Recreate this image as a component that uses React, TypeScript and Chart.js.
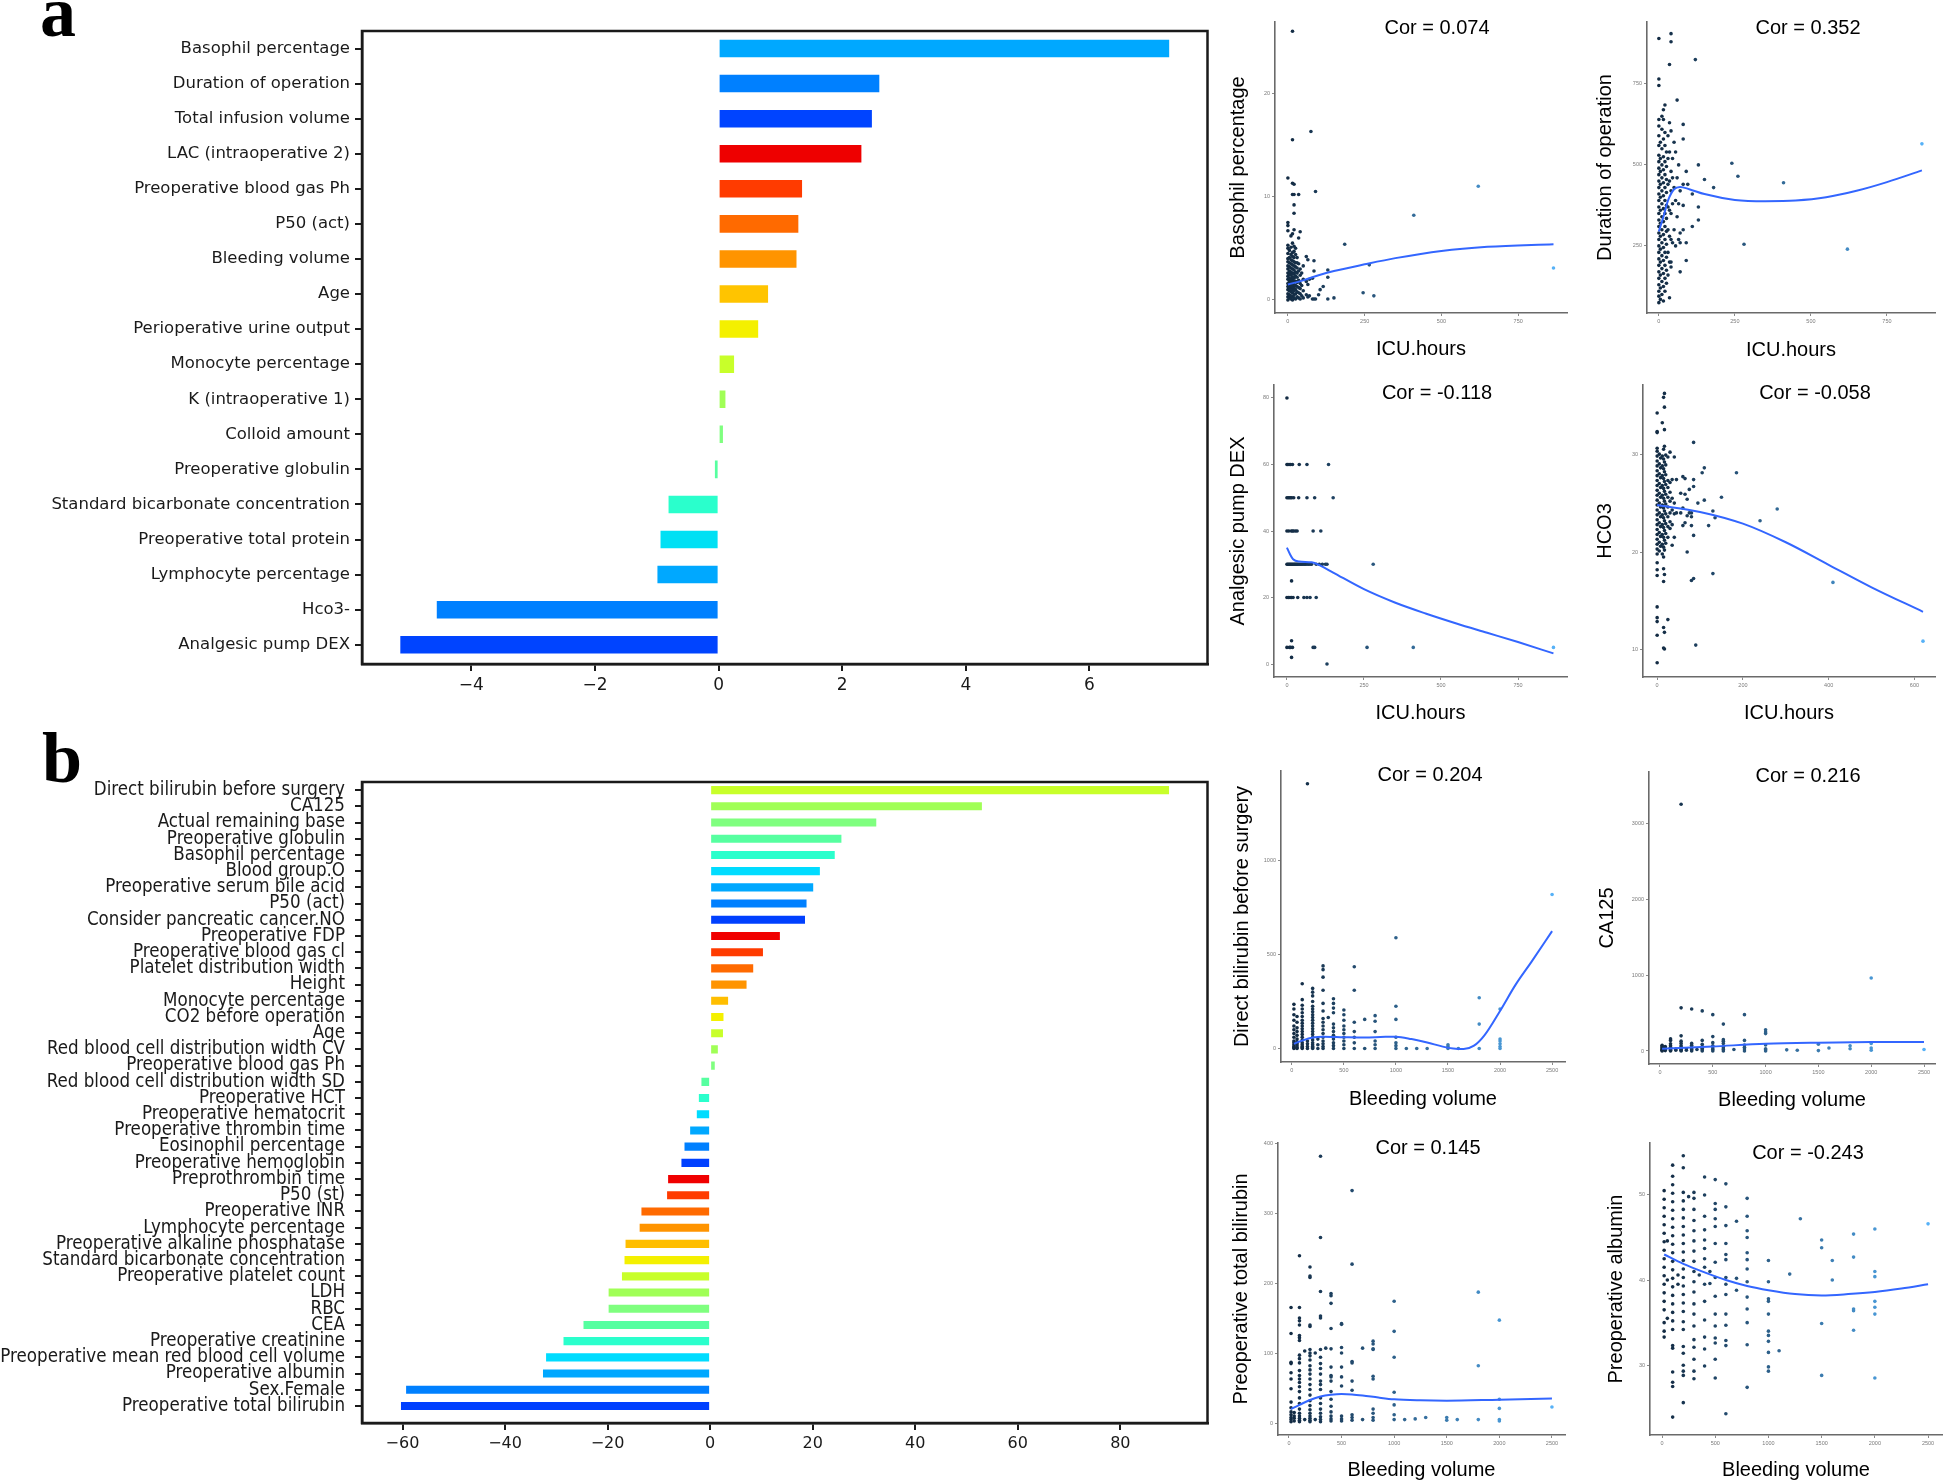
import React, { useEffect, useRef } from 'react';
import { Chart, registerables } from 'chart.js';
Chart.register(...registerables);

type Pt = [number, number];

// ---------------- Panel a (bar) ----------------
const A_LABELS = ['Basophil percentage', 'Duration of operation', 'Total infusion volume', 'LAC (intraoperative 2)', 'Preoperative blood gas Ph', 'P50 (act)', 'Bleeding volume', 'Age', 'Perioperative urine output', 'Monocyte percentage', 'K (intraoperative 1)', 'Colloid amount', 'Preoperative globulin', 'Standard bicarbonate concentration', 'Preoperative total protein', 'Lymphocyte percentage', 'Hco3-', 'Analgesic pump DEX'];
const A_VALUES = [7.29, 2.6, 2.48, 2.31, 1.35, 1.29, 1.26, 0.8, 0.64, 0.25, 0.11, 0.07, -0.06, -0.81, -0.94, -0.99, -4.56, -5.15];
const A_COLORS = ['#00A8FF', '#0080FF', '#0044FF', '#EE0000', '#FF3B00', '#FF6A00', '#FF9400', '#FFC400', '#F4F000', '#C8FF2A', '#A0FF56', '#7FFF7F', '#56FFA0', '#2AFFCC', '#00E0F4', '#00A8FF', '#0080FF', '#0044FF'];
const A_TICKS = [-4, -2, 0, 2, 4, 6];

// ---------------- Panel b (bar) ----------------
const B_LABELS = ['Direct bilirubin before surgery', 'CA125', 'Actual remaining base', 'Preoperative globulin', 'Basophil percentage', 'Blood group.O', 'Preoperative serum bile acid', 'P50 (act)', 'Consider pancreatic cancer.NO', 'Preoperative FDP', 'Preoperative blood gas cl', 'Platelet distribution width', 'Height', 'Monocyte percentage', 'CO2 before operation', 'Age', 'Red blood cell distribution width CV', 'Preoperative blood gas Ph', 'Red blood cell distribution width SD', 'Preoperative HCT', 'Preoperative hematocrit', 'Preoperative thrombin time', 'Eosinophil percentage', 'Preoperative hemoglobin', 'Preprothrombin time', 'P50 (st)', 'Preoperative INR', 'Lymphocyte percentage', 'Preoperative alkaline phosphatase', 'Standard bicarbonate concentration', 'Preoperative platelet count', 'LDH', 'RBC', 'CEA', 'Preoperative creatinine', 'Preoperative mean red blood cell volume', 'Preoperative albumin', 'Sex.Female', 'Preoperative total bilirubin'];
const B_VALUES = [89.5, 53.0, 32.4, 25.6, 24.3, 21.4, 20.1, 18.8, 18.5, 13.6, 10.3, 8.4, 7.1, 3.5, 2.6, 2.5, 1.5, 0.9, -1.7, -2.2, -2.6, -3.9, -5.0, -5.6, -8.2, -8.4, -13.4, -13.75, -16.5, -16.7, -17.2, -19.8, -19.8, -24.7, -28.6, -32.0, -32.6, -59.3, -60.3];
const B_COLORS = ['#C8FF2A', '#A0FF56', '#7FFF7F', '#56FFA0', '#2AFFCC', '#00DCFF', '#00A8FF', '#0080FF', '#0040FF', '#F00000', '#FF3B00', '#FF6A00', '#FF9400', '#FFBE00', '#F4F000', '#C8FF2A', '#A0FF56', '#7FFF7F', '#56FFA0', '#2AFFCC', '#00DCFF', '#00A8FF', '#0080FF', '#0040FF', '#F00000', '#FF3B00', '#FF6A00', '#FF9400', '#FFBE00', '#F4F000', '#C8FF2A', '#A0FF56', '#7FFF7F', '#56FFA0', '#2AFFCC', '#00DCFF', '#00A8FF', '#0080FF', '#0040FF'];
const B_TICKS = [-60, -40, -20, 0, 20, 40, 60, 80];

// ---------------- Scatter data (x column -> y values) ----------------
const S1_COLS: [number, number[]][] = [
  [0, [0, 0.3, 0.6, 1, 1.3, 1.6, 2, 2.3, 2.6, 3, 3.3, 3.7, 4, 4.5, 5, 5.3, 6.7, 7.2, 7.5, 11.8]],
  [5, [0.2, 0.5, 0.9, 1.2, 1.5, 1.8, 2.1, 2.5, 2.8, 3.2, 3.6, 4.1, 4.8]],
  [10, [0.1, 0.4, 0.8, 1.1, 1.4, 1.7, 2, 2.4, 2.7, 3.1, 3.5, 3.9, 4.4, 5.1, 6.2]],
  [15, [0, 0.3, 0.7, 1, 1.3, 1.6, 1.9, 2.2, 2.6, 3, 3.4, 3.8, 4.2, 4.6, 5.5, 6.4, 10.2, 11.3, 15.5, 26]],
  [20, [0.2, 0.5, 0.9, 1.2, 1.5, 1.8, 2.1, 2.5, 2.9, 3.3, 3.7, 4.1, 4.7, 5.2, 6.8, 8.4, 9.2, 10.2, 11.2]],
  [25, [0.1, 0.6, 1, 1.4, 1.8, 2.3, 2.7, 3.2, 3.6, 4.4, 5]],
  [30, [0.3, 0.8, 1.3, 1.7, 2.2, 2.6, 3.1, 3.6, 4.1]],
  [35, [0.2, 0.7, 1.2, 1.9, 2.8, 3.5, 6, 10.2]],
  [40, [0.1, 0.6, 1.1, 1.6, 2.4, 3, 6.6]],
  [45, [0.4, 1.4, 2.6]], [50, [0.2, 0.9, 2, 3.3]], [60, [0.5, 1.8, 4.2]], [65, [0.3, 1.5, 3.9]],
  [70, [0.4, 2]], [75, [16.3]], [80, [0.1, 2.1]], [85, [0.1, 2.8, 3.8]], [90, [0.1, 10.5]],
  [100, [0.5]], [105, [1]], [115, [1.3]], [130, [0.1, 2.2, 2.9]], [150, [0.2]], [185, [5.4]],
  [245, [0.7]], [265, [3.4]], [280, [0.4]], [410, [8.2]], [620, [11]], [865, [3.1]],
];
const S1_FIT: Pt[] = [[0, 1.5], [50, 1.9], [100, 2.4], [150, 2.8], [250, 3.45], [350, 4.05], [500, 4.75], [650, 5.15], [865, 5.4]];

const S2_COLS: [number, number[]][] = [
  [0, [75, 95, 110, 130, 150, 170, 190, 210, 230, 250, 270, 290, 310, 330, 350, 370, 390, 410, 430, 450, 470, 490, 510, 530, 560, 590, 620, 640, 745, 765, 890]],
  [5, [85, 120, 160, 200, 240, 280, 320, 360, 400, 440, 480, 520, 570]],
  [10, [100, 140, 180, 220, 260, 300, 340, 380, 420, 460, 500, 550, 610, 650]],
  [15, [80, 125, 165, 205, 245, 285, 325, 365, 405, 445, 485, 525, 580, 640, 670]],
  [20, [110, 150, 190, 230, 270, 310, 350, 390, 430, 470, 510, 560, 600, 685]],
  [25, [135, 175, 215, 255, 295, 335, 375, 415, 455, 495, 540]],
  [30, [160, 230, 300, 370, 440, 520, 590]],
  [35, [90, 200, 280, 360, 450, 540, 630, 810]],
  [40, [185, 200, 270, 350, 420, 480, 605, 880, 905]],
  [45, [260, 380, 460, 520]], [50, [300, 430, 570]], [55, [250, 390, 540]], [60, [340, 460, 700]],
  [65, [270, 380, 500]], [70, [170, 260, 290, 420]], [80, [300, 375, 440, 580, 625]], [90, [205, 260, 480]],
  [95, [440]], [110, [310, 410]], [120, [825]], [130, [330, 370, 500]], [150, [455]], [180, [430]],
  [240, [505]], [260, [465]], [280, [255]], [410, [445]], [620, [240]], [865, [565]],
];
const S2_FIT: Pt[] = [[0, 295], [15, 340], [30, 390], [50, 425], [70, 432], [100, 425], [150, 410], [250, 392], [350, 388], [450, 390], [550, 400], [650, 420], [750, 447], [865, 483]];

// Analgesic pump DEX: y level -> x values
const S3_ROWS: [number, number[]][] = [
  [80, [0]],
  [60, [0, 3, 7, 12, 18, 40, 65, 135]],
  [50, [0, 4, 8, 12, 16, 22, 38, 65, 90, 150]],
  [40, [0, 6, 14, 18, 22, 28, 33, 85, 110]],
  [30, [0, 3, 6, 9, 12, 15, 18, 21, 24, 27, 30, 33, 36, 40, 44, 48, 52, 56, 60, 65, 70, 75, 80, 95, 105, 115, 125, 130, 280]],
  [25, [15]],
  [20, [0, 5, 10, 15, 20, 35, 55, 65, 75, 95]],
  [7, [15]],
  [5, [0, 8, 12, 18, 85, 90, 260, 410, 865]],
  [2, [15]],
  [0, [130]],
];
const S3_FIT: Pt[] = [[0, 35], [10, 33], [20, 31.5], [40, 30.8], [80, 30.6], [110, 29.5], [150, 27.5], [250, 22.5], [350, 18.5], [450, 15.2], [550, 12.2], [650, 9.4], [750, 6.6], [865, 3.2]];

const S4_COLS: [number, number[]][] = [
  [0, [8.7, 11.5, 12.9, 13.3, 14.4, 17.6, 18.2, 18.9, 19.8, 20.3, 20.8, 21.3, 21.8, 22.3, 22.8, 23.3, 23.8, 24.3, 24.8, 25.3, 25.8, 26.3, 26.8, 27.3, 27.8, 28.3, 28.8, 29.3, 29.8, 30.3, 30.6, 32.2, 32.3, 34.2]],
  [5, [20.1, 21, 22, 23, 24, 25, 26, 27, 28, 29, 30]],
  [8, [20.6, 21.6, 22.6, 23.6, 24.6, 25.6, 26.6, 27.6, 28.6, 29.6]],
  [12, [19.8, 20.8, 21.8, 22.8, 23.8, 24.8, 25.8, 26.8, 27.8, 28.8, 29.8, 33.2]],
  [15, [10.2, 12.3, 17, 18.3, 19.5, 20.5, 21.5, 22.5, 23.5, 24.5, 25.5, 26.5, 27.5, 28.5, 29.5, 30.5, 35.8]],
  [17, [10.1, 11.8, 17.7, 20.2, 21.2, 22.2, 23.2, 24.2, 25.2, 26.2, 27.2, 28.2, 29.2, 30.8, 32.5, 34.8, 36.2]],
  [20, [20.9, 21.9, 22.9, 23.9, 24.9, 25.9, 26.9, 27.9, 28.9, 29.9]],
  [25, [13.1, 21.5, 22.6, 23.6, 24.6, 25.6, 26.6, 27.3, 29.7]],
  [30, [22.4, 23.1, 24, 25.2, 26.1, 27.1, 30.2]],
  [35, [20.7, 22.8, 24.3, 25.5, 27.4]], [40, [21.5, 23.9, 25, 29.7]], [45, [24, 27.4]], [55, [24, 26]],
  [60, [22.7, 24.5, 27.7]], [65, [23, 25.9, 27.5]], [70, [20, 23.7, 25.4]], [75, [24, 26.4]],
  [80, [17.1, 22.7, 23.6, 24]], [85, [17.3, 21.7, 26.7, 27.4, 31.2]], [90, [10.5]], [95, [25]],
  [105, [28.1]], [110, [25.3, 28.6]], [120, [22.7]], [130, [17.8, 24.2]], [135, [23.5]], [150, [25.6]],
  [185, [28.1]], [240, [23.2]], [280, [24.4]], [410, [16.9]], [620, [10.9]],
];
const S4_FIT: Pt[] = [[0, 24.8], [100, 24.1], [200, 22.9], [300, 21.0], [400, 18.7], [500, 16.4], [620, 13.9]];

const S5_COLS: [number, number[]][] = [
  [20, [0, 5, 10, 20, 30, 40, 60, 80, 100, 120, 150, 180, 210, 235]],
  [50, [0, 5, 15, 25, 35, 50, 70, 90, 110, 140, 170]],
  [100, [0, 5, 10, 20, 30, 45, 60, 75, 90, 105, 120, 135, 150, 170, 190, 210, 230, 260, 345]],
  [150, [0, 10, 25, 40, 1410]],
  [200, [0, 5, 10, 20, 30, 45, 60, 75, 90, 105, 120, 135, 150, 165, 180, 195, 210, 225, 250, 280, 300, 320]],
  [250, [0, 20, 50]],
  [300, [0, 10, 25, 40, 60, 80, 100, 120, 140, 160, 200, 240, 310, 380, 420, 440]],
  [350, [165]],
  [400, [0, 15, 30, 50, 70, 90, 110, 130, 190, 215, 240, 265]],
  [500, [0, 20, 40, 60, 80, 100, 120, 150, 180, 205]],
  [600, [0, 30, 60, 90, 140, 310, 435]],
  [700, [0, 155]], [800, [0, 20, 40, 90, 145, 175]], [1000, [0, 15, 30, 60, 155, 225, 590]],
  [1100, [0]], [1200, [0]], [1300, [0]], [1500, [0, 10, 20]], [1600, [0]], [1800, [0, 130, 270]],
  [2000, [0, 10, 25, 40, 50, 210]], [2500, [820]],
];
const S5_FIT: Pt[] = [[20, 25], [100, 42], [200, 58], [300, 63], [500, 60], [700, 58], [900, 62], [1000, 62], [1150, 50], [1300, 32], [1450, 10], [1550, 0], [1650, -3], [1750, 15], [1850, 70], [2000, 200], [2150, 340], [2300, 460], [2500, 625]];

const S6_COLS: [number, number[]][] = [
  [20, [0, 10, 20, 30, 45, 60, 75]], [50, [5, 15, 30, 45, 60]],
  [100, [0, 10, 20, 35, 50, 70, 95, 140, 160]], [150, [10, 25]],
  [200, [0, 10, 20, 35, 50, 70, 100, 130, 200, 570, 3260]], [250, [10, 30]],
  [300, [0, 15, 30, 50, 75, 100, 555]], [350, [20]],
  [400, [0, 15, 35, 60, 90, 140, 530]], [500, [0, 20, 40, 70, 110, 190, 480]],
  [600, [0, 20, 40, 60, 100, 130, 150, 355]], [700, [20]], [800, [0, 25, 50, 80, 140, 480]],
  [1000, [0, 15, 30, 80, 230, 250, 280]], [1200, [15]], [1300, [10]], [1500, [5, 90]], [1600, [40]],
  [1800, [30, 70]], [2000, [10, 40, 100, 965]], [2500, [20]],
];
const S6_FIT: Pt[] = [[20, 30], [500, 60], [1000, 95], [1500, 110], [2000, 118], [2500, 120]];

const S7_COLS: [number, number[]][] = [
  [20, [2, 5, 8, 12, 16, 22, 30, 49, 63, 72, 85, 87, 128, 165]], [50, [3, 7, 10, 15]],
  [100, [2, 4, 7, 10, 14, 20, 28, 36, 45, 52, 58, 63, 68, 75, 86, 92, 97, 118, 122, 125, 140, 146, 150, 165, 239]],
  [150, [5, 103]],
  [200, [2, 4, 7, 10, 14, 19, 25, 32, 40, 48, 55, 63, 70, 76, 82, 90, 96, 100, 105, 138, 140, 208, 210, 223]],
  [250, [5, 100]],
  [300, [2, 5, 9, 14, 20, 28, 36, 48, 55, 60, 70, 78, 85, 94, 105, 150, 153, 188, 265, 381]],
  [350, [107]],
  [400, [3, 6, 10, 16, 24, 34, 45, 60, 66, 68, 80, 106, 135, 171, 182, 185]],
  [500, [3, 6, 10, 53, 66, 80, 100, 108, 141, 142]],
  [600, [4, 8, 12, 47, 60, 86, 88, 227, 332]], [700, [5, 107]],
  [800, [4, 8, 14, 20, 63, 67, 105, 106, 113, 117]], [1000, [5, 12, 26, 44, 94, 131, 174]],
  [1100, [5]], [1200, [6]], [1300, [8]], [1500, [4, 8]], [1600, [5]], [1800, [5, 82, 187]],
  [2000, [3, 5, 21, 34, 147]], [2500, [23]],
];
const S7_FIT: Pt[] = [[20, 20], [100, 26], [200, 33], [300, 38], [400, 40.5], [500, 41.5], [600, 41], [700, 39.5], [850, 36.5], [1000, 34], [1250, 32.5], [1500, 32], [2000, 33.5], [2500, 35]];

const S8_COLS: [number, number[]][] = [
  [20, [33.3, 34, 35, 36.5, 37.5, 38.5, 39.5, 40.5, 41.5, 42.5, 43.5, 44.5, 45.5, 46.5, 47.5, 48.5, 49.5, 50.5]],
  [50, [35.5, 40, 44.6]],
  [100, [23.9, 27.5, 28, 29.2, 32, 32.3, 34.2, 35.2, 36.2, 37.2, 38.2, 39.2, 40.2, 41.2, 42.2, 43.2, 44.2, 45.2, 46.2, 47.2, 48.2, 49.2, 50.2, 51.2, 52.2, 53.5]],
  [150, [39.5, 40.6]],
  [200, [25.6, 28.8, 29.3, 30, 31.4, 32.2, 34.2, 35.1, 36.3, 37.3, 38.3, 39.3, 40.3, 41.3, 42.3, 43.3, 44.3, 45.3, 46.3, 47.3, 48.3, 49.3, 50.3, 53.2, 54.6]],
  [250, [49.8]],
  [300, [28.4, 29.3, 30.7, 32.1, 33, 34.6, 36, 37.2, 38.6, 39.8, 41, 42.2, 43.4, 44.6, 45.8, 47, 48.3, 49.6, 50.3]],
  [350, [40.6]],
  [400, [29.9, 31.9, 33.3, 35.3, 37.5, 39.5, 41.5, 42.5, 43.7, 44.7, 45.9, 47.5, 50, 52.1]],
  [450, [39.6, 41]],
  [500, [28.5, 30.7, 32.6, 33.2, 34.6, 36, 38.1, 40.3, 42.1, 44.3, 46.3, 47.2, 48.3, 49, 51.8]],
  [600, [24.3, 32.3, 32.9, 34.7, 36, 38.3, 39.5, 40.3, 42.4, 43, 44.3, 46.4, 48.6, 51.3]],
  [700, [38.8, 40.2, 46.9]],
  [800, [27.4, 32.4, 35, 36.6, 38, 39.8, 41.3, 42.4, 43.2, 45, 45.8, 47.5, 49.6]],
  [1000, [29.3, 29.8, 31.5, 32.8, 33.5, 34, 36, 37.5, 37.8, 39.8, 42.3]],
  [1100, [31.7]], [1200, [40.7]], [1300, [47.2]], [1500, [28.8, 34.9, 43.8, 44.7]], [1600, [40, 42.3]],
  [1800, [34.1, 36.4, 36.6, 42.7, 45.4]], [2000, [28.5, 36, 36.8, 37.5, 40.4, 41, 46]], [2500, [46.6]],
];
const S8_FIT: Pt[] = [[20, 43.0], [200, 41.9], [400, 40.9], [600, 40.0], [800, 39.3], [1000, 38.8], [1250, 38.35], [1500, 38.2], [1750, 38.35], [2000, 38.6], [2250, 39.0], [2500, 39.5]];

const ICU_TICKS = [0, 250, 500, 750];
const ICU_TICKS_HCO3 = [0, 200, 400, 600];
const BLEED_TICKS = [0, 500, 1000, 1500, 2000, 2500];

// ---------------- helpers ----------------
const SANS = '"Liberation Sans", Arial, sans-serif';
const DJV = '"DejaVu Sans", sans-serif';
const DJV_COND = '"DejaVu Sans Condensed", "Liberation Sans Narrow", "DejaVu Sans", sans-serif';

const framePlugin = {
  id: 'frame',
  afterDraw(chart: any, _args: any, opts: any) {
    if (!opts || !opts.on) return;
    const { ctx, chartArea: a } = chart;
    ctx.save();
    ctx.strokeStyle = opts.color;
    ctx.lineWidth = opts.width;
    ctx.strokeRect(a.left, a.top, a.right - a.left, a.bottom - a.top);
    ctx.restore();
  },
};

const corPlugin = {
  id: 'corTitle',
  afterDraw(chart: any, _args: any, o: any) {
    if (!o || !o.text) return;
    const ctx = chart.ctx;
    ctx.save();
    ctx.font = `${o.size}px ${SANS}`;
    ctx.fillStyle = '#000';
    ctx.textAlign = 'center';
    ctx.textBaseline = 'middle';
    ctx.fillText(o.text, o.x, o.y);
    ctx.restore();
  },
};

const minusFmt = (v: any) => {
  const n = Number(v);
  return n < 0 ? '\u2212' + Math.abs(n) : String(n);
};

interface BarSpec {
  left: number; top: number; w: number; h: number;
  area: { l: number; t: number; r: number; b: number };
  labels: string[]; values: number[]; colors: string[]; ticks: number[];
  xMin: number; xMax: number; yMax: number; labelFont: any; tickFont: any; labelPad: number;
}

function BarPanel({ s }: { s: BarSpec }) {
  const ref = useRef<HTMLCanvasElement>(null);
  useEffect(() => {
    const yW = s.area.l - s.left;
    const xH = s.top + s.h - s.area.b;
    const idx = s.labels.map((_, i) => i);
    const chart = new Chart(ref.current as HTMLCanvasElement, {
      type: 'bar',
      data: {
        datasets: [{ data: s.values.map((v, i) => ({ x: v, y: i })), backgroundColor: s.colors, barPercentage: 0.5, categoryPercentage: 1, borderWidth: 0 }],
      },
      options: {
        indexAxis: 'y',
        animation: false,
        responsive: false,
        devicePixelRatio: 1,
        layout: { padding: { top: s.area.t - s.top, right: s.left + s.w - s.area.r, left: 0, bottom: 0 } },
        plugins: { legend: { display: false }, tooltip: { enabled: false }, frame: { on: true, color: '#1a1a1a', width: 2.5 } } as any,
        scales: {
          x: {
            type: 'linear', min: s.xMin, max: s.xMax, offset: false,
            afterBuildTicks: (sc: any) => { sc.ticks = s.ticks.map((v) => ({ value: v })); },
            afterFit: (sc: any) => { sc.height = xH; },
            ticks: { font: s.tickFont, color: '#1a1a1a', padding: 4, maxRotation: 0, autoSkip: false, callback: minusFmt },
            grid: { offset: false, drawOnChartArea: false, drawTicks: true, tickLength: 7, color: '#1a1a1a', lineWidth: 2 },
            border: { display: true, color: '#1a1a1a', width: 2.5 },
          },
          y: {
            type: 'linear', reverse: true, min: -0.5, max: s.yMax, offset: false,
            afterBuildTicks: (sc: any) => { sc.ticks = idx.map((v) => ({ value: v })); },
            afterFit: (sc: any) => { sc.width = yW; },
            ticks: { font: s.labelFont, color: '#1a1a1a', padding: s.labelPad, autoSkip: false, callback: (v: any) => s.labels[Number(v)] ?? '' },
            grid: { offset: false, drawOnChartArea: false, drawTicks: true, tickLength: 7, color: '#1a1a1a', lineWidth: 2 },
            border: { display: true, color: '#1a1a1a', width: 2.5 },
          },
        },
      } as any,
      plugins: [framePlugin],
    });
    return () => chart.destroy();
  }, []);
  return <canvas ref={ref} width={s.w} height={s.h} style={{ position: 'absolute', left: s.left, top: s.top, width: s.w, height: s.h }} />;
}

interface ScatterSpec {
  left: number; top: number; w: number; h: number;
  area: { l: number; t: number; r: number; b: number };
  xr: [number, number]; yr: [number, number];
  xTicks: number[]; yTicks: number[];
  cols?: [number, number[]][]; rows?: [number, number[]][];
  fit: Pt[];
  yLabel: string; xLabel: string; cor: string;
  yLabelX: number; xLabelY: number; corX: number; corY: number;
}

const LOW = [19, 43, 67];
const HIGH = [86, 177, 247];

function ScatterPanel({ s }: { s: ScatterSpec }) {
  const ref = useRef<HTMLCanvasElement>(null);
  useEffect(() => {
    const pts: { x: number; y: number }[] = [];
    (s.cols || []).forEach(([x, ys]) => ys.forEach((y) => pts.push({ x, y })));
    (s.rows || []).forEach(([y, xs]) => xs.forEach((x) => pts.push({ x, y })));
    const xs = pts.map((p) => p.x);
    const xmin = Math.min(...xs);
    const xmax = Math.max(...xs);
    const col = (x: number) => {
      const t = (x - xmin) / (xmax - xmin || 1);
      const c = LOW.map((l, i) => Math.round(l + (HIGH[i] - l) * t));
      return `rgb(${c[0]},${c[1]},${c[2]})`;
    };
    const yW = s.area.l - s.left;
    const xH = s.top + s.h - s.area.b;
    const lh = 24;
    const yPad = Math.max(0, s.yLabelX - s.left - lh / 2);
    const xPad = Math.max(0, s.top + s.h - s.xLabelY - lh / 2);
    const tickFont = { size: 5.5, family: SANS };
    const plain = (v: any) => String(v);
    const chart = new Chart(ref.current as HTMLCanvasElement, {
      type: 'scatter',
      data: {
        datasets: [
          { type: 'line', data: s.fit.map(([x, y]) => ({ x, y })), borderColor: '#3366FF', borderWidth: 2, pointRadius: 0, showLine: true, fill: false, cubicInterpolationMode: 'monotone', order: 0 },
          { type: 'scatter', data: pts, pointRadius: 1.8, pointBorderWidth: 0, pointBackgroundColor: pts.map((p) => col(p.x)), order: 1 },
        ],
      } as any,
      options: {
        animation: false,
        responsive: false,
        devicePixelRatio: 1,
        layout: { padding: { top: s.area.t - s.top, right: s.left + s.w - s.area.r, left: 0, bottom: 0 } },
        plugins: {
          legend: { display: false }, tooltip: { enabled: false },
          corTitle: { text: s.cor, x: s.corX - s.left, y: s.corY - s.top, size: 20 },
        } as any,
        scales: {
          x: {
            type: 'linear', min: s.xr[0], max: s.xr[1],
            afterBuildTicks: (sc: any) => { sc.ticks = s.xTicks.map((v) => ({ value: v })); },
            afterFit: (sc: any) => { sc.height = xH; },
            ticks: { font: tickFont, color: '#7a7a7a', padding: 2, maxRotation: 0, autoSkip: false, callback: plain },
            grid: { drawOnChartArea: false, drawTicks: true, tickLength: 3, color: '#8a8a8a', lineWidth: 1 },
            border: { display: true, color: '#6a6a6a', width: 1.6 },
            title: { display: true, text: s.xLabel, color: '#000', font: { size: 20, family: SANS, lineHeight: 1.2 }, padding: { top: 0, bottom: xPad } },
          },
          y: {
            type: 'linear', min: s.yr[0], max: s.yr[1],
            afterBuildTicks: (sc: any) => { sc.ticks = s.yTicks.map((v) => ({ value: v })); },
            afterFit: (sc: any) => { sc.width = yW; },
            ticks: { font: tickFont, color: '#7a7a7a', padding: 2, autoSkip: false, callback: plain },
            grid: { drawOnChartArea: false, drawTicks: true, tickLength: 3, color: '#8a8a8a', lineWidth: 1 },
            border: { display: true, color: '#6a6a6a', width: 1.6 },
            title: { display: true, text: s.yLabel, color: '#000', font: { size: 20, family: SANS, lineHeight: 1.2 }, padding: { top: yPad, bottom: 0 } },
          },
        },
      } as any,
      plugins: [corPlugin],
    });
    return () => chart.destroy();
  }, []);
  return <canvas ref={ref} width={s.w} height={s.h} style={{ position: 'absolute', left: s.left, top: s.top, width: s.w, height: s.h }} />;
}

// ---------------- layout ----------------
const BAR_A: BarSpec = {
  left: 0, top: 0, w: 1215, h: 700, area: { l: 362, t: 31, r: 1207.5, b: 664 },
  labels: A_LABELS, values: A_VALUES, colors: A_COLORS, ticks: A_TICKS, xMin: -5.77, xMax: 7.91, yMax: 17.55,
  labelFont: { size: 16.5, family: DJV }, tickFont: { size: 17, family: DJV }, labelPad: 5,
};
const BAR_B: BarSpec = {
  left: 0, top: 740, w: 1215, h: 744, area: { l: 362, t: 782, r: 1207.5, b: 1423 },
  labels: B_LABELS, values: B_VALUES, colors: B_COLORS, ticks: B_TICKS, xMin: -67.9, xMax: 97.0, yMax: 39.05,
  labelFont: { size: 18.6, family: DJV_COND }, tickFont: { size: 16, family: DJV }, labelPad: 10,
};

const SCATTERS: ScatterSpec[] = [
  { left: 1222, top: 0, w: 353, h: 368, area: { l: 1275, t: 22, r: 1567, b: 313 }, xr: [-42, 909], yr: [-1.26, 26.9], xTicks: ICU_TICKS, yTicks: [0, 10, 20], cols: S1_COLS, fit: S1_FIT, yLabel: 'Basophil percentage', xLabel: 'ICU.hours', cor: 'Cor = 0.074', yLabelX: 1238, xLabelY: 349, corX: 1437, corY: 28 },
  { left: 1590, top: 0, w: 356, h: 368, area: { l: 1647, t: 22, r: 1935, b: 313 }, xr: [-39, 908], yr: [43, 941], xTicks: ICU_TICKS, yTicks: [250, 500, 750], cols: S2_COLS, fit: S2_FIT, yLabel: 'Duration of operation', xLabel: 'ICU.hours', cor: 'Cor = 0.352', yLabelX: 1605, xLabelY: 350, corX: 1808, corY: 28 },
  { left: 1222, top: 368, w: 353, h: 368, area: { l: 1274, t: 385, r: 1567, b: 677 }, xr: [-42, 909], yr: [-3.9, 83.9], xTicks: ICU_TICKS, yTicks: [0, 20, 40, 60, 80], rows: S3_ROWS, fit: S3_FIT, yLabel: 'Analgesic pump DEX', xLabel: 'ICU.hours', cor: 'Cor = -0.118', yLabelX: 1238, xLabelY: 713, corX: 1437, corY: 393 },
  { left: 1590, top: 368, w: 356, h: 368, area: { l: 1643, t: 385, r: 1935, b: 677 }, xr: [-33, 648], yr: [7.24, 37.06], xTicks: ICU_TICKS_HCO3, yTicks: [10, 20, 30], cols: S4_COLS, fit: S4_FIT, yLabel: 'HCO3', xLabel: 'ICU.hours', cor: 'Cor = -0.058', yLabelX: 1605, xLabelY: 713, corX: 1815, corY: 393 },
  { left: 1222, top: 740, w: 353, h: 375, area: { l: 1281, t: 771, r: 1565, b: 1062 }, xr: [-104, 2624], yr: [-72, 1478], xTicks: BLEED_TICKS, yTicks: [0, 500, 1000], cols: S5_COLS, fit: S5_FIT, yLabel: 'Direct bilirubin before surgery', xLabel: 'Bleeding volume', cor: 'Cor = 0.204', yLabelX: 1242, xLabelY: 1099, corX: 1430, corY: 775 },
  { left: 1590, top: 740, w: 356, h: 375, area: { l: 1649, t: 772, r: 1935, b: 1064 }, xr: [-104, 2604], yr: [-172, 3687], xTicks: BLEED_TICKS, yTicks: [0, 1000, 2000, 3000], cols: S6_COLS, fit: S6_FIT, yLabel: 'CA125', xLabel: 'Bleeding volume', cor: 'Cor = 0.216', yLabelX: 1607, xLabelY: 1100, corX: 1808, corY: 776 },
  { left: 1222, top: 1115, w: 353, h: 369, area: { l: 1278, t: 1143, r: 1565, b: 1435 }, xr: [-104, 2624], yr: [-17, 400], xTicks: BLEED_TICKS, yTicks: [0, 100, 200, 300, 400], cols: S7_COLS, fit: S7_FIT, yLabel: 'Preoperative total bilirubin', xLabel: 'Bleeding volume', cor: 'Cor = 0.145', yLabelX: 1241, xLabelY: 1470, corX: 1428, corY: 1148 },
  { left: 1590, top: 1115, w: 356, h: 369, area: { l: 1650, t: 1143, r: 1942, b: 1435 }, xr: [-113, 2631], yr: [21.8, 56.1], xTicks: BLEED_TICKS, yTicks: [30, 40, 50], cols: S8_COLS, fit: S8_FIT, yLabel: 'Preoperative albumin', xLabel: 'Bleeding volume', cor: 'Cor = -0.243', yLabelX: 1616, xLabelY: 1470, corX: 1808, corY: 1153 },
];

export default function App() {
  const letter: React.CSSProperties = { position: 'absolute', font: 'bold 72px "Liberation Serif", "Times New Roman", serif', lineHeight: '72px', color: '#000' };
  return (
    <div style={{ position: 'absolute', left: 0, top: 0, width: 1946, height: 1484, background: '#fff', overflow: 'hidden' }}>
      <BarPanel s={BAR_A} />
      <BarPanel s={BAR_B} />
      {SCATTERS.map((s, i) => <ScatterPanel key={i} s={s} />)}
      <div style={{ ...letter, left: 40, top: -24 }}>a</div>
      <div style={{ ...letter, left: 42, top: 722 }}>b</div>
    </div>
  );
}
